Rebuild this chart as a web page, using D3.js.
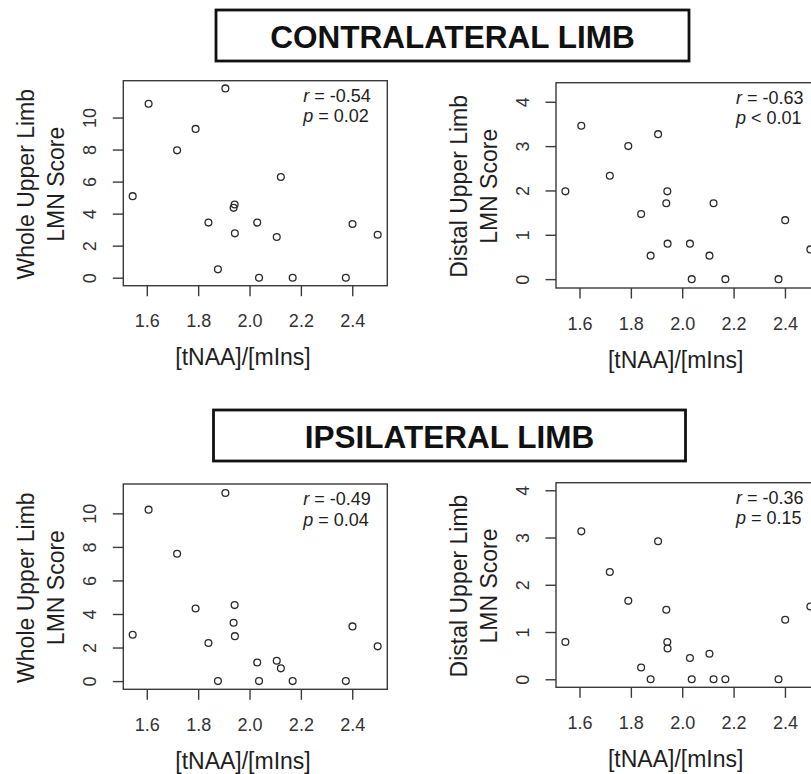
<!DOCTYPE html>
<html>
<head>
<meta charset="utf-8">
<script src="https://cdn.jsdelivr.net/npm/d3@7"></script>
<style>
  html, body { margin: 0; padding: 0; background: #fff; }
  svg { display: block; font-family: "Liberation Sans", Arial, Helvetica, sans-serif; }
</style>
</head>
<body>
<svg id="chart" width="811" height="774"></svg>
<script>
// [tNAA]/[mIns] ratio per subject (shared by all four panels)
const tNAA = [1.545, 1.607, 1.718, 1.790, 1.906, 1.840, 1.877, 1.938, 1.942, 1.943,
              2.030, 2.037, 2.106, 2.122, 2.168, 2.375, 2.401, 2.499];

// LMN scores per subject, same order as tNAA
const contraWhole  = [5.09, 10.86, 7.95, 9.29, 11.82, 3.44, 0.52, 4.36, 4.57, 2.77,
                      3.44, 0, 2.54, 6.29, 0, 0, 3.35, 2.68];
const contraDistal = [1.98, 3.46, 2.33, 3.00, 3.27, 1.47, 0.53, 1.71, 1.98, 0.80,
                      0.80, 0, 0.53, 1.71, 0, 0, 1.33, 0.67];
const ipsiWhole    = [2.76, 10.22, 7.59, 4.33, 11.21, 2.27, 0, 3.48, 4.53, 2.68,
                      1.11, 0, 1.21, 0.76, 0, 0, 3.26, 2.07];
const ipsiDistal   = [0.79, 3.13, 2.27, 1.66, 2.92, 0.25, 0, 1.47, 0.79, 0.65,
                      0.45, 0, 0.54, 0, 0, 0, 1.26, 1.54];

// Tick values
const xTicks      = [1.6, 1.8, 2.0, 2.2, 2.4];
const wholeTicks  = [0, 2, 4, 6, 8, 10];
const distalTicks = [0, 1, 2, 3, 4];

// Correlation statistics
const rValues  = ["-0.54", "-0.63", "-0.49", "-0.36"];
const pSigns   = ["=", "<", "=", "="];
const pValues  = ["0.02", "0.01", "0.04", "0.15"];

// Section headings and axis titles
const sectionTitles = ["CONTRALATERAL LIMB", "IPSILATERAL LIMB"];
const yTitlesWhole  = ["Whole Upper Limb", "LMN Score"];
const yTitlesDistal = ["Distal Upper Limb", "LMN Score"];
const xTitle = "[tNAA]/[mIns]";

const svg = d3.select("#chart");
const ink = "#1e1e1e";

// Section heading boxes
const headings = [
  { text: sectionTitles[0], x: 216, y: 10, w: 473, h: 51, base: 48.3 },
  { text: sectionTitles[1], x: 213.5, y: 410, w: 472, h: 51, base: 448.3 }
];
headings.forEach(h => {
  svg.append("rect")
    .attr("x", h.x).attr("y", h.y).attr("width", h.w).attr("height", h.h)
    .attr("fill", "none").attr("stroke", "#111").attr("stroke-width", 2.8);
  svg.append("text")
    .attr("x", h.x + h.w / 2).attr("y", h.base)
    .attr("text-anchor", "middle")
    .attr("font-size", 31.5).attr("font-weight", "bold").attr("fill", "#111")
    .text(h.text);
});

// Panel layout
const panels = [
  { ys: contraWhole,  ticks: wholeTicks,  ydom: [-0.5, 12.3],   titles: yTitlesWhole,  left: 123.3, top: 80.7,  bottom: 285.7, k: 0 },
  { ys: contraDistal, ticks: distalTicks, ydom: [-0.2, 4.43],   titles: yTitlesDistal, left: 556,   top: 82.7,  bottom: 288,   k: 1 },
  { ys: ipsiWhole,    ticks: wholeTicks,  ydom: [-0.49, 11.75], titles: yTitlesWhole,  left: 123.3, top: 484,   bottom: 689.3, k: 2 },
  { ys: ipsiDistal,   ticks: distalTicks, ydom: [-0.17, 4.16],  titles: yTitlesDistal, left: 556,   top: 482.7, bottom: 687.3, k: 3 }
];
const panelWidth = 264;

panels.forEach(p => {
  const right = p.left + panelWidth;
  const x = d3.scaleLinear().domain([1.5085, 2.5365]).range([p.left, right]);
  const y = d3.scaleLinear().domain(p.ydom).range([p.bottom, p.top]);
  const g = svg.append("g");

  // Plot frame
  g.append("rect")
    .attr("x", p.left).attr("y", p.top)
    .attr("width", panelWidth).attr("height", p.bottom - p.top)
    .attr("fill", "none").attr("stroke", "#3a3a3a").attr("stroke-width", 1.4);

  // X axis
  const xAxis = d3.axisBottom(x).tickValues(xTicks).tickSize(10.5).tickPadding(0)
    .tickFormat(d3.format(".1f"));
  const gx = g.append("g").attr("transform", `translate(0,${p.bottom})`).call(xAxis);
  gx.select(".domain").remove();
  gx.selectAll(".tick line").attr("stroke", "#3a3a3a").attr("stroke-width", 1.4);
  gx.selectAll(".tick text")
    .attr("y", 41.8).attr("dy", null)
    .attr("font-size", 18).attr("fill", "#333")
    .attr("font-family", "Liberation Sans, Arial, sans-serif");

  // Y axis (vertical tick labels)
  const yAxis = d3.axisLeft(y).tickValues(p.ticks).tickSize(10.5).tickPadding(0)
    .tickFormat(d3.format("d"));
  const gy = g.append("g").attr("transform", `translate(${p.left},0)`).call(yAxis);
  gy.select(".domain").remove();
  gy.selectAll(".tick line").attr("stroke", "#3a3a3a").attr("stroke-width", 1.4);
  gy.selectAll(".tick text")
    .attr("x", null).attr("dy", null)
    .attr("text-anchor", "middle")
    .attr("transform", "translate(-27,0) rotate(-90)")
    .attr("font-size", 18).attr("fill", "#333")
    .attr("font-family", "Liberation Sans, Arial, sans-serif");

  // Axis titles
  g.append("text")
    .attr("x", p.left + 119.7).attr("y", p.bottom + 79.5)
    .attr("text-anchor", "middle").attr("font-size", 23).attr("fill", ink)
    .text(xTitle);
  const cy = (p.top + p.bottom) / 2 + 1;
  p.titles.forEach((t, i) => {
    const bx = p.left - (i === 0 ? 89 : 59.5);
    g.append("text")
      .attr("transform", `translate(${bx},${cy}) rotate(-90)`)
      .attr("text-anchor", "middle").attr("font-size", 23).attr("fill", ink)
      .text(t);
  });

  // Points
  g.selectAll("circle.pt")
    .data(tNAA.map((v, i) => [v, p.ys[i]]))
    .join("circle")
    .attr("class", "pt")
    .attr("cx", d => x(d[0])).attr("cy", d => y(d[1]))
    .attr("r", 3.4)
    .attr("fill", "none").attr("stroke", "#2a2a2a").attr("stroke-width", 1.3);

  // Correlation annotation
  const sx = p.left + 180;
  const t1 = g.append("text").attr("x", sx).attr("y", p.top + 21.2)
    .attr("font-size", 18).attr("fill", ink);
  t1.append("tspan").attr("font-style", "italic").text("r");
  t1.append("tspan").text(` = ${rValues[p.k]}`);
  const t2 = g.append("text").attr("x", sx).attr("y", p.top + 41.5)
    .attr("font-size", 18).attr("fill", ink);
  t2.append("tspan").attr("font-style", "italic").text("p");
  t2.append("tspan").text(` ${pSigns[p.k]} ${pValues[p.k]}`);
});
</script>
</body>
</html>
